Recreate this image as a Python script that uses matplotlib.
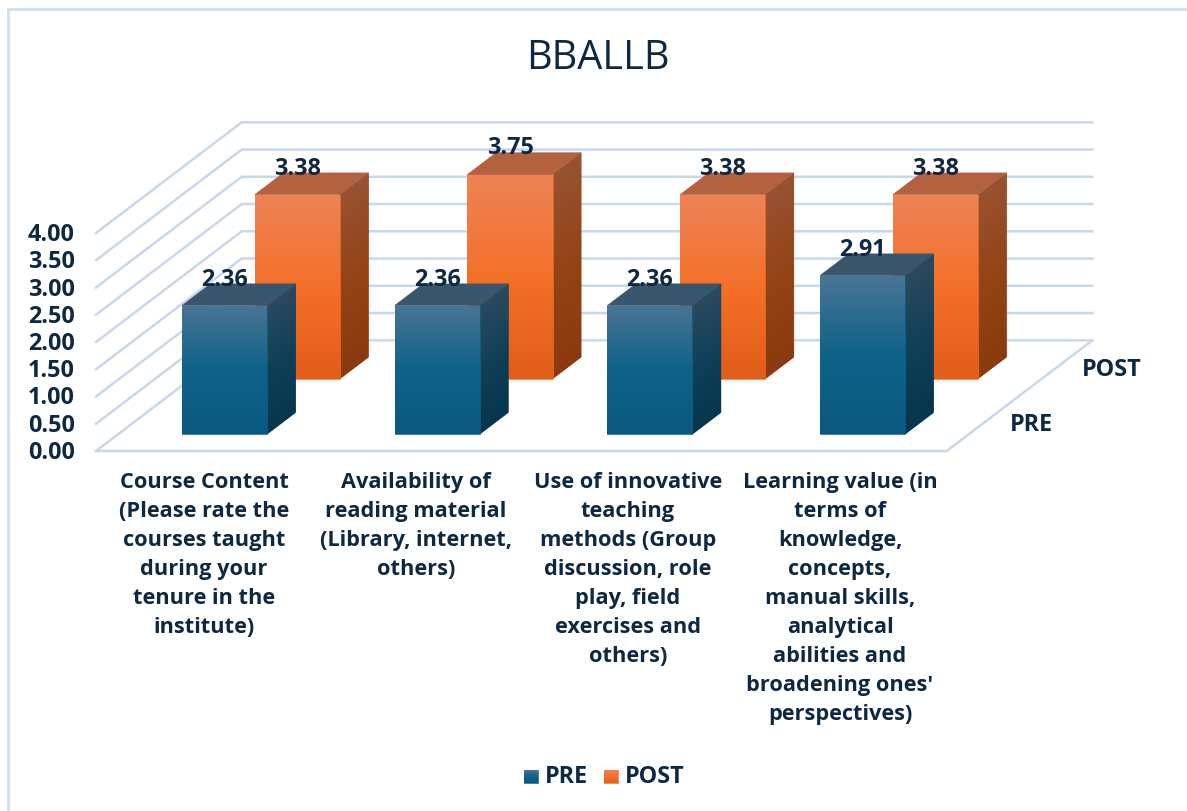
import numpy as np
import matplotlib
matplotlib.use("Agg")
import matplotlib.pyplot as plt
from matplotlib.colors import to_rgb
from matplotlib.patches import Polygon

categories = [
    "Course Content\n(Please rate the\ncourses taught\nduring your\ntenure in the\ninstitute)",
    "Availability of\nreading material\n(Library, internet,\nothers)",
    "Use of innovative\nteaching\nmethods (Group\ndiscussion, role\nplay, field\nexercises and\nothers)",
    "Learning value (in\nterms of\nknowledge,\nconcepts,\nmanual skills,\nanalytical\nabilities and\nbroadening ones'\nperspectives)",
]
pre = [2.36, 2.36, 2.36, 2.91]
post = [3.38, 3.75, 3.38, 3.38]
ticks = [0, 0.5, 1, 1.5, 2, 2.5, 3, 3.5, 4]

TEXT = "#0e2841"
GRID = "#c8d8ea"
FONT = "Open Sans"

# 3d box of the chart, in picture pixels
X0, Y0 = 96.0, 451.0
W = 850.7
DX, DY = 145.7, -110.7
UNIT = 54.5
BAR_W = 0.1
BAR_D = 0.196


def proj(u, d, v):
    return X0 + W * u + DX * d, Y0 + DY * d - UNIT * v


def shade(ax, pts, stops, base, rise, x_ref, slope):
    # gradient running up the face, clipped to the face outline
    pts = np.array(pts)
    ax.add_patch(Polygon(pts, closed=True, facecolor=stops[1], edgecolor=stops[1], linewidth=0.4, zorder=3))
    x1, x2 = int(pts[:, 0].min()), int(pts[:, 0].max()) + 1
    y1, y2 = int(pts[:, 1].min()), int(pts[:, 1].max()) + 1
    xx, yy = np.meshgrid(np.arange(x1, x2) + 0.5, np.arange(y1, y2) + 0.5)
    t = np.clip((base + slope * (xx - x_ref) - yy) / rise, 0, 1)
    cols = np.array([to_rgb(c) for c in stops])
    img = np.dstack([np.interp(t, [0, 0.5, 1], cols[:, k]) for k in range(3)])
    im = ax.imshow(img, extent=(x1, x2, y2, y1), aspect="auto", zorder=3, interpolation="bilinear")
    clip = Polygon(pts, closed=True, transform=ax.transData)
    im.set_clip_path(clip)


def draw_bar(ax, i, d_c, val, front, side, top):
    u1 = (i + 0.5) / 4 - BAR_W / 2
    u2 = u1 + BAR_W
    d1 = d_c - BAR_D / 2
    d2 = d1 + BAR_D
    fl, fb = proj(u1, d1, 0)
    fr, _ = proj(u2, d1, 0)
    _, ft = proj(u1, d1, val)
    bx, by = proj(u2, d2, 0)
    _, bt = proj(u2, d2, val)
    tlx, tly = proj(u1, d2, val)
    slope = (by - fb) / (bx - fr)
    shade(ax, [(fr, fb), (bx, by), (bx, bt), (fr, ft)], side, fb, fb - ft, fr, slope)
    shade(ax, [(fl, fb), (fr, fb), (fr, ft), (fl, ft)], front, fb, fb - ft, fl, 0)
    ax.add_patch(Polygon([(fl, ft), (fr, ft), (bx, bt), (tlx, tly)], closed=True,
                         facecolor=top, edgecolor=top, linewidth=0.4, zorder=3))
    return (fl + fr) / 2, ft


fig = plt.figure(figsize=(11.87, 8.11), dpi=100)
ax = fig.add_axes([0, 0, 1, 1])

# chart frame
ax.plot([8, 8], [811, 9], color="#cfe0f3", lw=2, zorder=1)
ax.plot([8, 1187], [9, 9], color="#cfe0f3", lw=2, zorder=1)

# walls and floor
for v in ticks:
    pts = [proj(0, 0, v), proj(0, 1, v), proj(1, 1, v)]
    ax.plot(*zip(*pts), color=GRID, lw=1.8, zorder=2, solid_joinstyle="miter")
    ax.text(75, proj(0, 0, v)[1] + 2, f"{v:.2f}", ha="right", va="center", family=FONT,
            fontweight="bold", fontsize=16.8, color=TEXT, zorder=5)
floor = [proj(0, 0, 0), proj(1, 0, 0), proj(1, 1, 0)]
ax.plot(*zip(*floor), color=GRID, lw=1.8, zorder=2)

labels = []
for i, v in enumerate(post):
    cx, ty = draw_bar(ax, i, 0.75, v,
                      ["#e05d1a", "#f47029", "#ee8357"], ["#8a3a0e", "#944316", "#975333"], "#b2623f")
    labels.append((cx, ty, v))
for i, v in enumerate(pre):
    cx, ty = draw_bar(ax, i, 0.25, v,
                      ["#0a587f", "#0f6288", "#4a7595"], ["#05364e", "#0f4058", "#2c4a60"], "#3a566c")
    labels.append((cx, ty, v))
for cx, ty, v in labels:
    ax.text(cx, ty - 26, f"{v:.2f}", ha="center", va="center", family=FONT, fontweight="bold",
            fontsize=16.8, color=TEXT, zorder=6)

# axis labels
for i, c in enumerate(categories):
    ax.text(204 + 212 * i, 472, c, ha="center", va="top", family=FONT, fontweight="bold",
            fontsize=15.7, color=TEXT, linespacing=1.5, zorder=5)
ax.text(1031, 425, "PRE", ha="center", va="center", family=FONT, fontweight="bold", fontsize=16.8, color=TEXT)
ax.text(1112, 370, "POST", ha="center", va="center", family=FONT, fontweight="bold", fontsize=16.8, color=TEXT)

ax.text(598, 59, "BBALLB", ha="center", va="center", family=FONT, fontsize=28.6, color=TEXT)

# legend
for x, name, stops in [(524, "PRE", ["#0a587f", "#0f6288", "#4a7595"]),
                       (604, "POST", ["#e05d1a", "#f47029", "#ee8357"])]:
    shade(ax, [(x, 783), (x + 14, 783), (x + 14, 770), (x, 770)], stops, 783, 13, x, 0)
    ax.text(x + 21, 777, name, ha="left", va="center", family=FONT, fontweight="bold", fontsize=16.8, color=TEXT)

ax.set_xlim(0, 1187)
ax.set_ylim(811, 0)
ax.axis("off")
fig.savefig("out.png", dpi=100)
